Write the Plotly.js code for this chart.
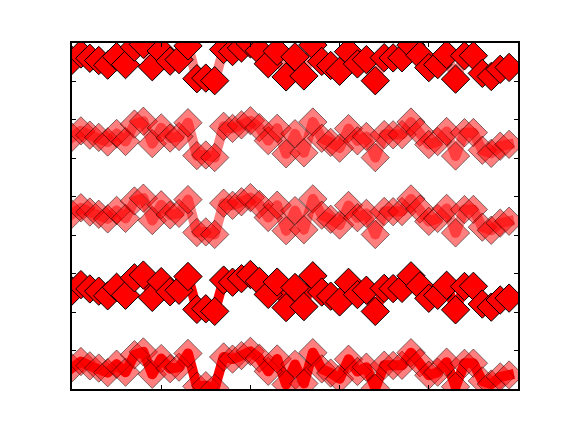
<!DOCTYPE html>
<html>
<head>
<meta charset="utf-8">
<script src="https://cdn.plot.ly/plotly-3.0.1.min.js"></script>
<style>
html,body{margin:0;padding:0;background:#fff}
#chart{width:576px;height:432px}
#chart .scatterlayer .js-line{stroke-linejoin:round !important;stroke-linecap:square !important;}
</style>
</head>
<body>
<div id="chart"></div>
<script>
var xIndex = [0,1,2,3,4,5,6,7,8,9,10,11,12,13,14,15,16,17,18,19,20,21,22,23,24,25,26,27,28,29,30,31,32,33,34,35,36,37,38,39,40,41,42,43,44,45,46,47,48,49];

var seriesA = [0.549,0.715,0.603,0.545,0.424,0.646,0.438,0.892,0.964,0.383,0.792,0.529,0.568,0.926,0.071,0.087,0.020,0.833,0.778,0.870,0.979,0.799,0.461,0.781,0.118,0.640,0.143,0.945,0.522,0.415,0.265,0.774,0.456,0.568,0.019,0.618,0.612,0.617,0.944,0.682,0.360,0.437,0.698,0.060,0.667,0.671,0.210,0.129,0.315,0.364];
var seriesB = [2.549,2.715,2.603,2.545,2.424,2.646,2.438,2.892,2.964,2.383,2.792,2.529,2.568,2.926,2.071,2.087,2.020,2.833,2.778,2.870,2.979,2.799,2.461,2.781,2.118,2.640,2.143,2.945,2.522,2.415,2.265,2.774,2.456,2.568,2.019,2.618,2.612,2.617,2.944,2.682,2.360,2.437,2.698,2.060,2.667,2.671,2.210,2.129,2.315,2.364];
var seriesC = [4.549,4.715,4.603,4.545,4.424,4.646,4.438,4.892,4.964,4.383,4.792,4.529,4.568,4.926,4.071,4.087,4.020,4.833,4.778,4.870,4.979,4.799,4.461,4.781,4.118,4.640,4.143,4.945,4.522,4.415,4.265,4.774,4.456,4.568,4.019,4.618,4.612,4.617,4.944,4.682,4.360,4.437,4.698,4.060,4.667,4.671,4.210,4.129,4.315,4.364];
var seriesD = [6.549,6.715,6.603,6.545,6.424,6.646,6.438,6.892,6.964,6.383,6.792,6.529,6.568,6.926,6.071,6.087,6.020,6.833,6.778,6.870,6.979,6.799,6.461,6.781,6.118,6.640,6.143,6.945,6.522,6.415,6.265,6.774,6.456,6.568,6.019,6.618,6.612,6.617,6.944,6.682,6.360,6.437,6.698,6.060,6.667,6.671,6.210,6.129,6.315,6.364];
var seriesE = [8.549,8.715,8.603,8.545,8.424,8.646,8.438,8.892,8.964,8.383,8.792,8.529,8.568,8.926,8.071,8.087,8.020,8.833,8.778,8.870,8.979,8.799,8.461,8.781,8.118,8.640,8.143,8.945,8.522,8.415,8.265,8.774,8.456,8.568,8.019,8.618,8.612,8.617,8.944,8.682,8.360,8.437,8.698,8.060,8.667,8.671,8.210,8.129,8.315,8.364];

var RED = 'rgb(255,0,0)', RED_A = 'rgba(255,0,0,0.5)';
var BLK = 'rgb(0,0,0)', BLK_A = 'rgba(0,0,0,0.5)';

function tr(y, lineColor, faceColor, edgeColor) {
  return {
    x: xIndex, y: y, type: 'scatter', mode: 'lines+markers',
    line: {color: lineColor, width: 10},
    marker: {symbol: 'diamond', size: 21.8, color: faceColor,
             line: {color: edgeColor, width: 1}},
    hoverinfo: 'none', showlegend: false
  };
}

var data = [
  tr(seriesA, RED, RED_A, BLK_A),
  tr(seriesB, RED, RED, BLK),
  tr(seriesC, RED_A, RED_A, BLK_A),
  tr(seriesD, RED_A, RED_A, BLK_A),
  tr(seriesE, RED_A, RED, BLK)
];

var axisCommon = {
  showline: true, linecolor: '#000', linewidth: 2, mirror: 'ticks',
  ticks: 'inside', ticklen: 4, tickwidth: 1, tickcolor: '#000',
  showticklabels: false, showgrid: false, zeroline: false, fixedrange: true
};

var layout = {
  width: 576, height: 432,
  margin: {l: 72, r: 58, t: 43, b: 43, pad: 0},
  paper_bgcolor: '#fff', plot_bgcolor: '#fff',
  xaxis: Object.assign({range: [0, 50], tick0: 0, dtick: 10}, axisCommon),
  yaxis: Object.assign({range: [0, 9], tick0: 0, dtick: 1}, axisCommon),
  showlegend: false
};

Plotly.newPlot('chart', data, layout, {staticPlot: true, displayModeBar: false});
</script>
</body>
</html>
